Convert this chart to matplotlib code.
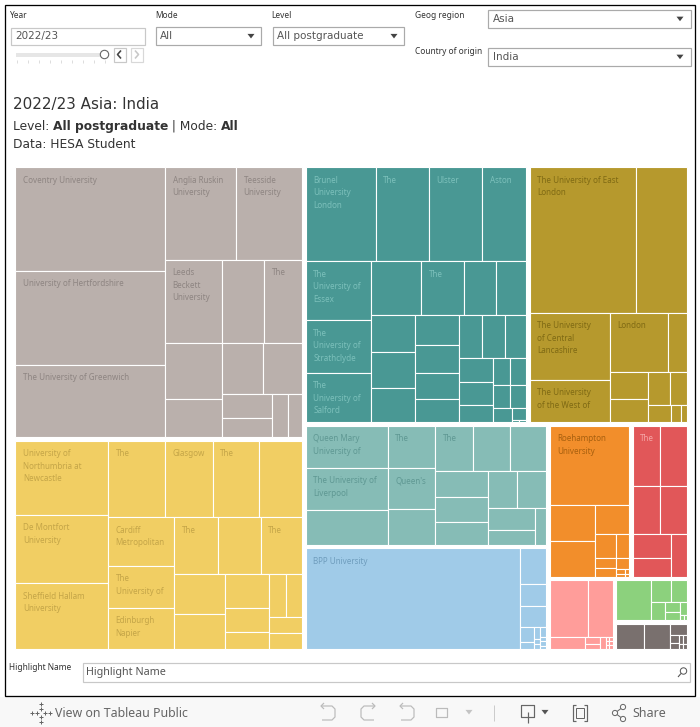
import matplotlib
matplotlib.use("Agg")
import matplotlib.pyplot as plt
from matplotlib.patches import Rectangle, Circle, Polygon

# ---------- data: estimated sizes ----------
year = "2022/23"
region = "Asia"
country = "India"
level = "All postgraduate"
mode = "All"

group_totals = {"grey": 79597, "yellow": 61586, "teal": 58016, "olive": 41570,
                "ltteal": 29890, "blue": 25498, "orange": 12824, "red": 8884,
                "pink": 4821, "green": 3219, "brown": 2146}
group_order = [["grey", "yellow"],
               [["teal", "olive"],
                [["ltteal", "blue"],
                 [["orange", "red"], ["pink", ["green", "brown"]]]]]]

grey_sizes = [[15600, 14250, 10950],
              [[6603, 6138], [4788, 3528, 3192],
               [[3192, 2223], [[2091, 1989], [[1200, 1000], 704, 616]]]]]
yellow_sizes = [[6882, 6417, 6138],
                [[4332, 3648, 3572, 3268],
                 [[3234, 2772, 2772],
                  [[2508, 2451, 2394],
                   [[2040, 1785], [1496, 1056, 748],
                    [[731, 688], 528, 528]]]]]]
teal_sizes = [[6650, 5035, 5035, 4180],
              [[3835, 3445, 3250],
               [[2754, 2322, 1728, 1620],
                [[1665, 1620, 1575], [1320, 1232, 1144, 1056],
                 [[989, 989, 903],
                  [[816, 782, 612],
                   [[459, 432], [391, 368],
                    [285, [182, [14, 14]]]]]]]]]]
olive_sizes = [[15582, 7350],
               [[5360, 3440],
                [[3422, 1121],
                 [[1026, 912],
                  [[726, 561], [414, 180, 108]]]]]]
ltteal_sizes = [[3444, 3526, 2870], [2016, 2016, 1728],
                [[1710, 1665, 1620],
                 [[1431, 1325, 1219],
                  [[1102, 1102], [[1034, 705], 407]]]]]
blue_sizes = [21715,
              [936, 572, 546,
               [[210, 98], [72, 30, 30], [60, 30, 30, 20]]]]
orange_sizes = [6320,
                [[1665, 1620],
                 [1015, [525, 325],
                  [[200, 200], [140, [[36, 27], [20, 15]]]]]]]
red_sizes = [[1620, 1620], [1323, 1323], [[912, 722], 688]]
pink_sizes = [[2195, 1425],
              [432, [105, 75], 72, [[14, 14], [14, 14], [14, 14]]]]
green_sizes = [1400,
               [[440, 352],
                [252, [143, 128], [91, [20, 15]]]]]
brown_sizes = [728, 676,
               [187, [[81, 54], [40, 20], [40, 20]]]]

grey_labels = {0: "Coventry University", 1: "University of Hertfordshire",
               2: "The University of Greenwich", 3: "Anglia Ruskin\nUniversity",
               4: "Teesside\nUniversity", 5: "Leeds\nBeckett\nUniversity", 7: "The"}
yellow_labels = {0: "University of\nNorthumbria at\nNewcastle", 1: "De Montfort\nUniversity",
                 2: "Sheffield Hallam\nUniversity", 3: "The", 4: "Glasgow", 5: "The",
                 7: "Cardiff\nMetropolitan", 8: "The\nUniversity of",
                 9: "Edinburgh\nNapier", 10: "The", 12: "The"}
teal_labels = {0: "Brunel\nUniversity\nLondon", 1: "The", 2: "Ulster", 3: "Aston",
               4: "The\nUniversity of\nEssex", 5: "The\nUniversity of\nStrathclyde",
               6: "The\nUniversity of\nSalford", 8: "The"}
olive_labels = {0: "The University of East\nLondon", 2: "The University\nof Central\nLancashire",
                3: "The University\nof the West of", 4: "London"}
ltteal_labels = {0: "Queen Mary\nUniversity of", 1: "The University of\nLiverpool",
                 3: "The", 4: "Queen's", 6: "The"}
blue_labels = {0: "BPP University"}
orange_labels = {0: "Roehampton\nUniversity"}
red_labels = {0: "The"}

groups = {
    "grey": (grey_sizes, grey_labels, True, "#BAB0AC", "#8E8582"),
    "yellow": (yellow_sizes, yellow_labels, True, "#F1CE63", "#C4A548"),
    "teal": (teal_sizes, teal_labels, False, "#499894", "#7CC0BB"),
    "olive": (olive_sizes, olive_labels, False, "#B6992D", "#7F6A14"),
    "ltteal": (ltteal_sizes, ltteal_labels, True, "#86BCB6", "#5F9893"),
    "blue": (blue_sizes, blue_labels, True, "#A0CBE8", "#6F9DBD"),
    "orange": (orange_sizes, orange_labels, False, "#F28E2B", "#A8600F"),
    "red": (red_sizes, red_labels, False, "#E15759", "#F5A5A5"),
    "pink": (pink_sizes, {}, False, "#FF9D9A", "#000000"),
    "green": (green_sizes, {}, True, "#8CD17D", "#000000"),
    "brown": (brown_sizes, {}, True, "#79706E", "#000000"),
}

TXT = "#333333"
LAB = "#555555"
SANS = "Noto Sans"
HEAD = "DejaVu Sans"

fig = plt.figure(figsize=(7.0, 7.27), dpi=100, facecolor="white")
ax = fig.add_axes([0, 0, 1, 1])
ax.set_xlim(0, 700)
ax.set_ylim(727, 0)
ax.axis("off")


def px(n):
    return n * 0.72


def weight(node, lookup=None):
    if isinstance(node, str):
        return lookup[node]
    if isinstance(node, (int, float)):
        return node
    return sum(weight(c, lookup) for c in node)


def layout(node, box, across, out, lookup=None):
    x0, y0, x1, y1 = box
    if isinstance(node, (int, float, str)):
        out.append((node, box))
        return
    total = weight(node, lookup)
    pos = x0 if across else y0
    for child in node:
        share = weight(child, lookup) / total
        if across:
            nxt = pos + share * (x1 - x0)
            layout(child, (pos, y0, nxt, y1), not across, out, lookup)
        else:
            nxt = pos + share * (y1 - y0)
            layout(child, (x0, pos, x1, nxt), not across, out, lookup)
        pos = nxt


placed = []
layout(group_order, (13.5, 165.5, 688.5, 651), True, placed, group_totals)
INSET = 1.75
for name, (gx0, gy0, gx1, gy1) in placed:
    sizes, labels, across, fill, tcol = groups[name]
    cells = []
    layout(sizes, (gx0 + INSET, gy0 + INSET, gx1 - INSET, gy1 - INSET), across, cells)
    for i, (_, (x0, y0, x1, y1)) in enumerate(cells):
        ax.add_patch(Rectangle((x0, y0), x1 - x0, y1 - y0, facecolor=fill,
                               edgecolor="white", lw=px(1.1)))
        if i in labels:
            ax.text(x0 + 7.5, y0 + 8.5, labels[i], fontsize=5.8, family=SANS, color=tcol,
                    va="top", ha="left", linespacing=1.5)


def box(x0, y0, x1, y1, ec="#B4B4B4", lw=1.2, fc="white", z=3):
    ax.add_patch(Rectangle((x0, y0), x1 - x0, y1 - y0, facecolor=fc, edgecolor=ec,
                           lw=px(lw), zorder=z))


def arrow(x, y, s=3.5, c="#444444"):
    ax.add_patch(Polygon([(x - s, y - s * 0.6), (x + s, y - s * 0.6), (x, y + s * 0.7)],
                         closed=True, fc=c, ec="none", zorder=5))


def small(x, y, s, size=6.0, c=TXT):
    ax.text(x, y, s, fontsize=size, family=SANS, color=c, va="center", ha="left", zorder=6)


def line(xs, ys, c="#999999", lw=1.2, z=6):
    ax.plot(xs, ys, color=c, lw=px(lw), zorder=z, solid_capstyle="butt")


# frame
box(4.5, 4.5, 694.5, 695.5, ec="black", lw=1.3, fc="none", z=8)
ax.add_patch(Rectangle((0, 697), 700, 30, facecolor="#F8F8F8", edgecolor="none", zorder=2))

# filters
small(10, 15, "Year")
small(155, 15, "Mode")
small(271, 15, "Level")
small(415, 15, "Geog region")
small(415, 52, "Country of origin")

box(10.5, 27.5, 144.5, 44.5, ec="#C8C8C8")
ax.text(15, 36, year, fontsize=7.5, family=HEAD, color=LAB, va="center", zorder=6)
ax.add_patch(Rectangle((16, 52.5), 88, 4, facecolor="#E6E6E6", edgecolor="none", zorder=4))
for tx in range(17, 106, 11):
    line([tx, tx], [60, 63], c="#DDDDDD", lw=1)
ax.add_patch(Circle((104.5, 54.5), 4.2, facecolor="white", edgecolor="#666666", lw=px(1.1), zorder=6))
box(113.5, 47.5, 125.5, 61.5, ec="#C8C8C8")
box(130.5, 47.5, 142.5, 61.5, ec="#D8D8D8")
line([121, 117.5, 121], [50.5, 54.5, 58.5], c="#444444", lw=1.6)
line([135, 138.5, 135], [50.5, 54.5, 58.5], c="#C8C8C8", lw=1.6)

for (x0, y0, x1, y1, s, ax_x) in [(155.5, 27, 261, 45, mode, 251),
                                  (272.5, 27, 404, 45, level, 394),
                                  (488, 9.5, 690.5, 28, region, 680),
                                  (488, 47.5, 690.5, 66, country, 680)]:
    box(x0, y0, x1, y1, ec="#AAAAAA")
    ax.text(x0 + 4.5, (y0 + y1) / 2, s, fontsize=7.5, family=HEAD, color=LAB, va="center", zorder=6)
    arrow(ax_x, (y0 + y1) / 2)

# titles
ax.text(13, 105, f"{year} {region}: {country}", fontsize=10.9, family=HEAD, color=TXT,
        va="center", zorder=6)
rend = fig.canvas.get_renderer()


def advance(s, w, size):
    a = ax.text(0, 0, "A" + s + "A", fontsize=size, family=HEAD, weight=w)
    b = ax.text(0, 0, "AA", fontsize=size, family=HEAD, weight=w)
    d = a.get_window_extent(rend).width - b.get_window_extent(rend).width
    a.remove()
    b.remove()
    return d


cx = 13
for s, w in [("Level: ", "normal"), (level, "bold"), (" | Mode: ", "normal"), (mode, "bold")]:
    ax.text(cx, 130, s, fontsize=8.8, family=HEAD, weight=w, color=TXT, va="baseline", zorder=6)
    cx += advance(s, w, 8.8)
ax.text(13, 144.5, "Data: HESA Student", fontsize=8.8, family=HEAD, color=TXT, va="center", zorder=6)

# highlight box
small(9, 667, "Highlight Name")
box(82.5, 662.5, 690, 681.5, ec="#C8C8C8")
small(86, 672.5, "Highlight Name", size=7.8, c=LAB)
ax.add_patch(Circle((683.5, 671), 3.2, facecolor="none", edgecolor="#555555", lw=px(1), zorder=6))
line([681, 678], [673.5, 677], c="#555555", lw=1.1)

# toolbar
G = "#666666"
L = "#BBBBBB"
for dx, dy in [(0, -9), (0, 9), (-9, 0), (9, 0), (0, -4), (0, 4), (-4, 0), (4, 0)]:
    cxx, cyy = 41 + dx, 713 + dy
    line([cxx - 2, cxx + 2], [cyy, cyy], c=G, lw=1)
    line([cxx, cxx], [cyy - 2, cyy + 2], c=G, lw=1)
small(55, 713.5, "View on Tableau Public", size=8.9, c=G)
for ux, flip in [(328, 1), (368, -1), (407, 1)]:
    line([ux - 7 * flip, ux + 4 * flip, ux + 7 * flip, ux + 7 * flip, ux + 4 * flip, ux - 6 * flip],
         [706, 706, 709, 717, 720, 720], c=L, lw=1.2)
    line([ux - 4 * flip, ux - 7 * flip, ux - 4 * flip], [703, 706, 709], c=L, lw=1.2)
line([436, 447, 447, 436, 436], [708, 708, 717, 717, 708], c=L, lw=1.2)
arrow(469, 712, s=3.5, c="#C4C4C4")
line([493.5, 493.5], [705, 721], c="#CCCCCC", lw=1)
line([521, 534, 534, 521, 521], [705, 705, 717, 717, 705], c=G, lw=1.2)
line([527.5, 527.5], [712, 723], c=G, lw=1.2)
arrow(545, 712, s=3.5, c="#555555")
line([576, 573, 573, 576], [705, 705, 721, 721], c=G, lw=1.2)
line([584, 587, 587, 584], [705, 705, 721, 721], c=G, lw=1.2)
ax.add_patch(Rectangle((576, 708), 8, 10, facecolor="none", edgecolor=G, lw=px(1), zorder=6))
for cxx, cyy in [(615, 713), (623, 707), (623, 719)]:
    ax.add_patch(Circle((cxx, cyy), 2.6, facecolor="none", edgecolor=G, lw=px(1), zorder=6))
line([617, 621], [711.5, 708.5], c=G, lw=1)
line([617, 621], [714.5, 717.5], c=G, lw=1)
small(632, 713.5, "Share", size=9.0, c=G)

fig.savefig("out.png", dpi=100, facecolor="white")
